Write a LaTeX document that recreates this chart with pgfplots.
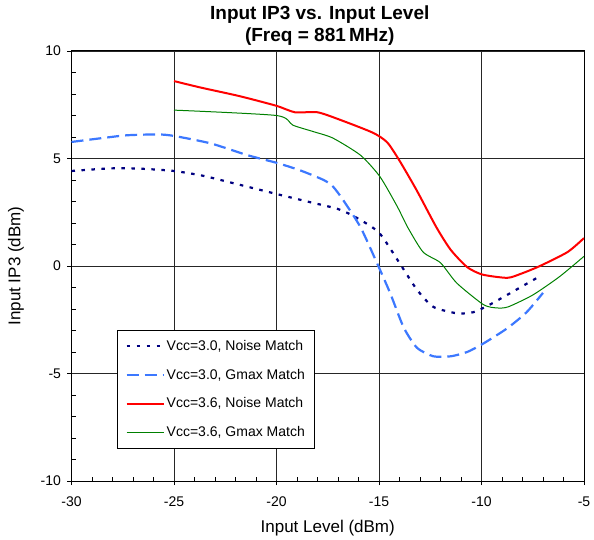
\documentclass[border=0pt]{standalone}
\usepackage{fontspec}
\setmainfont{Liberation Sans}
\usepackage{pgfplots}
\pgfplotsset{compat=1.18}

\definecolor{navyline}{RGB}{0,0,128}
\definecolor{gmaxblue}{RGB}{60,120,255}
\definecolor{redline}{RGB}{255,0,0}
\definecolor{greenline}{RGB}{0,128,0}

\begin{document}
\begin{tikzpicture}
\begin{axis}[
  width=512.5pt, height=430pt, scale only axis,
  xmin=-30, xmax=-5, ymin=-10, ymax=10,
  xtick={-30,-25,...,-5}, ytick={-10,-5,...,10},
  minor x tick num=4, minor y tick num=4,
  xtick pos=bottom, ytick pos=left,
  tick align=outside, major tick length=4pt, minor tick length=-4pt,
  tick style={black, line width=0.8pt},
  grid=major, grid style={black!85, line width=0.8pt},
  axis line style={line width=1pt},
  /pgf/number format/assume math mode=true,
  ticklabel style={font=\fontsize{14}{16}\selectfont},
  xticklabel style={yshift=-8pt},
  yticklabel style={xshift=-3pt},
  xlabel={Input Level (dBm)}, ylabel={Input IP3 (dBm)},
  label style={font=\fontsize{17}{19}\selectfont},
  xlabel style={yshift=-7pt},
  ylabel style={yshift=10pt},
  title={Input IP3 vs. Input Level\\(Freq = 881\,MHz)},
  title style={align=center, font=\bfseries\fontsize{19}{22}\selectfont, xshift=-8pt, yshift=-4pt},
  legend style={at={(0.089,0.351)}, anchor=north west, draw=black, line width=0.8pt,
    font=\fontsize{14}{16}\selectfont, row sep=13pt, inner xsep=8pt, inner ysep=8pt},
  legend cell align=left,
  legend image code/.code={\draw[#1] (0pt,0pt) -- (37pt,0pt);},
]
\addplot[navyline, line width=2.2pt, dash pattern=on 3.5pt off 6.5pt, smooth, tension=0.4] coordinates {
(-30,4.42) (-28.5,4.52) (-27.6,4.55) (-26.5,4.52) (-25,4.42) (-23.6,4.2) (-22.1,3.85) (-20,3.35)
(-18.5,3.0) (-17,2.65) (-16.1,2.25) (-15,1.55) (-14,0.14) (-13.15,-1.1) (-12.35,-1.9) (-11.2,-2.2)
(-10.4,-2.15) (-9.6,-1.8) (-8.3,-1.1) (-7.2,-0.5)};
\addlegendentry{Vcc=3.0, Noise Match}
\addplot[gmaxblue, line width=2.2pt, dash pattern=on 12pt off 6pt, smooth, tension=0.4] coordinates {
(-30,5.77) (-28.5,5.95) (-27.3,6.08) (-25.8,6.12) (-25,6.05) (-23.2,5.7) (-21.4,5.15) (-20,4.8)
(-18.85,4.45) (-17.7,4.0) (-17.25,3.7) (-16.75,3.07) (-15.9,1.8) (-15.1,0.14) (-14.46,-1.25)
(-13.8,-2.85) (-13.15,-3.8) (-12.35,-4.2) (-11.5,-4.2) (-10.7,-4.0) (-9.9,-3.6) (-8.75,-2.9)
(-7.8,-2.15) (-7.0,-1.25)};
\addlegendentry{Vcc=3.0, Gmax Match}
\addplot[redline, line width=2pt, smooth, tension=0.4] coordinates {
(-25,8.6) (-23.7,8.3) (-21.8,7.9) (-20,7.45) (-19.1,7.15) (-18,7.15) (-16.9,6.8) (-15.3,6.2)
(-14.6,5.75) (-14,4.9) (-13.15,3.5) (-12.2,1.8) (-11.5,0.75) (-10.7,-0.05) (-9.95,-0.4)
(-8.75,-0.55) (-8.1,-0.37) (-7.15,0) (-5.8,0.65) (-5,1.3)};
\addlegendentry{Vcc=3.6, Noise Match}
\addplot[greenline, line width=1pt, smooth, tension=0.4] coordinates {
(-25,7.25) (-20,7.0) (-19.2,6.55) (-18.2,6.25) (-17.25,5.95) (-15.9,5.15) (-14.95,4.15)
(-14.1,2.75) (-13.6,1.8) (-12.85,0.65) (-12,0.15) (-11.2,-0.8) (-9.9,-1.8) (-9.25,-1.95)
(-8.7,-1.9) (-7.5,-1.35) (-6.2,-0.5) (-5,0.45)};
\addlegendentry{Vcc=3.6, Gmax Match}
\end{axis}
\pgfresetboundingbox
\path ([xshift=-71.5pt,yshift=-58pt]current axis.south west) rectangle ([xshift=10pt,yshift=51pt]current axis.north east);
\end{tikzpicture}
\end{document}
